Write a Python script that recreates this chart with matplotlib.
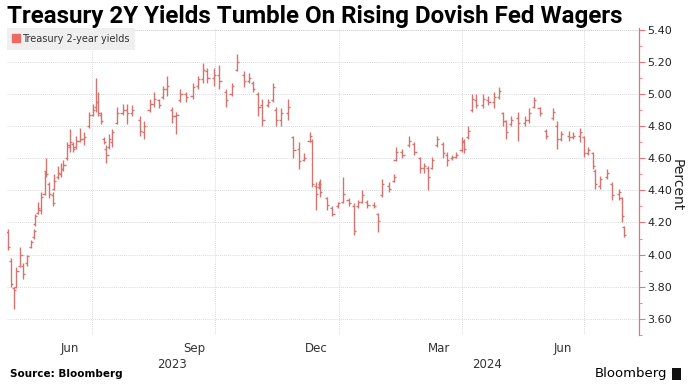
import numpy as np
import pandas as pd
import matplotlib
matplotlib.use('Agg')
import matplotlib.pyplot as plt
import matplotlib.dates as mdates
import matplotlib.transforms as mtransforms
from matplotlib.lines import Line2D
from matplotlib.patches import Rectangle

# 数据：美国两年期国债收益率（OHLC，按图片读取）
dates = ['2023-04-30', '2023-05-02', '2023-05-04', '2023-05-06', '2023-05-09', '2023-05-11', '2023-05-14', '2023-05-17', '2023-05-19', '2023-05-20',
         '2023-05-22', '2023-05-24', '2023-05-27', '2023-05-28', '2023-05-30', '2023-06-02', '2023-06-03', '2023-06-06', '2023-06-08', '2023-06-10',
         '2023-06-13', '2023-06-15', '2023-06-17', '2023-06-19', '2023-06-22', '2023-06-25', '2023-06-29', '2023-07-02', '2023-07-04', '2023-07-06',
         '2023-07-08', '2023-07-10', '2023-07-12', '2023-07-14', '2023-07-16', '2023-07-20', '2023-07-24', '2023-07-27', '2023-07-31', '2023-08-06',
         '2023-08-09', '2023-08-13', '2023-08-16', '2023-08-20', '2023-08-23', '2023-08-26', '2023-08-30', '2023-09-02', '2023-09-05', '2023-09-09',
         '2023-09-14', '2023-09-18', '2023-09-22', '2023-09-25', '2023-09-30', '2023-10-04', '2023-10-09', '2023-10-13', '2023-10-17', '2023-10-22',
         '2023-10-26', '2023-10-29', '2023-11-02', '2023-11-05', '2023-11-09', '2023-11-13', '2023-11-15', '2023-11-19', '2023-11-24', '2023-11-28',
         '2023-12-02', '2023-12-06', '2023-12-10', '2023-12-12', '2023-12-15', '2023-12-17', '2023-12-18', '2023-12-23', '2023-12-27', '2023-12-31',
         '2024-01-04', '2024-01-08', '2024-01-12', '2024-01-15', '2024-01-18', '2024-01-22', '2024-01-27', '2024-01-30', '2024-02-02', '2024-02-07',
         '2024-02-11', '2024-02-12', '2024-02-17', '2024-02-22', '2024-02-26', '2024-03-01', '2024-03-04', '2024-03-07', '2024-03-10', '2024-03-14',
         '2024-03-18', '2024-03-21', '2024-03-25', '2024-03-28', '2024-04-01', '2024-04-03', '2024-04-06', '2024-04-09', '2024-04-12', '2024-04-17',
         '2024-04-21', '2024-04-25', '2024-04-29', '2024-05-02', '2024-05-04', '2024-05-08', '2024-05-13', '2024-05-18', '2024-05-21', '2024-05-25',
         '2024-05-29', '2024-06-03', '2024-06-08', '2024-06-11', '2024-06-14', '2024-06-20', '2024-06-23', '2024-06-28', '2024-07-01', '2024-07-04',
         '2024-07-08', '2024-07-09', '2024-07-13', '2024-07-18', '2024-07-22', '2024-07-27', '2024-07-29', '2024-07-31']

highs = [4.16, 3.98, 3.80, 3.92, 4.05, 3.95, 4.00, 4.09, 4.16, 4.25,
         4.33, 4.39, 4.52, 4.60, 4.45, 4.39, 4.50, 4.55, 4.57, 4.59,
         4.70, 4.78, 4.70, 4.74, 4.79, 4.76, 4.89, 4.94, 5.10, 5.01,
         4.89, 4.73, 4.68, 4.75, 4.78, 4.92, 4.94, 4.94, 4.93, 4.86,
         4.83, 4.97, 5.01, 4.97, 5.05, 5.11, 4.92, 4.89, 5.03, 5.01,
         5.07, 5.11, 5.19, 5.16, 5.16, 5.18, 5.03, 5.07, 5.25, 5.14,
         5.13, 5.08, 5.01, 4.97, 4.97, 5.07, 4.92, 4.91, 4.97, 4.74,
         4.70, 4.63, 4.76, 4.72, 4.45, 4.46, 4.47, 4.36, 4.30, 4.33,
         4.48, 4.35, 4.32, 4.34, 4.40, 4.34, 4.33, 4.26, 4.47, 4.45,
         4.50, 4.67, 4.66, 4.74, 4.70, 4.61, 4.57, 4.55, 4.61, 4.74,
         4.70, 4.64, 4.62, 4.64, 4.73, 4.72, 4.80, 5.00, 5.00, 5.00,
         4.99, 5.01, 5.04, 4.89, 4.84, 4.86, 4.89, 4.86, 4.91, 4.98,
         4.92, 4.78, 4.91, 4.83, 4.77, 4.77, 4.76, 4.79, 4.74, 4.67,
         4.64, 4.53, 4.49, 4.53, 4.45, 4.41, 4.36, 4.18]

lows = [4.03, 3.80, 3.66, 3.79, 3.92, 3.85, 3.93, 4.04, 4.10, 4.18,
        4.25, 4.25, 4.37, 4.48, 4.35, 4.30, 4.40, 4.47, 4.48, 4.52,
        4.59, 4.64, 4.64, 4.66, 4.70, 4.68, 4.79, 4.86, 4.89, 4.86,
        4.81, 4.69, 4.57, 4.66, 4.67, 4.81, 4.87, 4.81, 4.86, 4.74,
        4.72, 4.89, 4.92, 4.91, 4.97, 4.99, 4.82, 4.75, 4.95, 4.95,
        4.97, 5.03, 5.07, 5.07, 5.05, 5.03, 4.92, 4.99, 5.14, 5.04,
        5.07, 5.01, 4.86, 4.80, 4.92, 4.95, 4.80, 4.80, 4.84, 4.60,
        4.53, 4.58, 4.70, 4.42, 4.28, 4.41, 4.36, 4.28, 4.24, 4.29,
        4.32, 4.30, 4.12, 4.29, 4.32, 4.29, 4.29, 4.14, 4.36, 4.39,
        4.45, 4.58, 4.60, 4.67, 4.62, 4.51, 4.51, 4.40, 4.53, 4.67,
        4.60, 4.55, 4.59, 4.60, 4.64, 4.63, 4.72, 4.89, 4.91, 4.91,
        4.93, 4.91, 4.97, 4.80, 4.72, 4.80, 4.71, 4.80, 4.82, 4.91,
        4.86, 4.72, 4.84, 4.66, 4.71, 4.71, 4.72, 4.70, 4.61, 4.62,
        4.53, 4.41, 4.41, 4.47, 4.34, 4.34, 4.20, 4.11]

opens = [4.14, 3.96, 3.79, 3.80, 3.93, 3.93, 3.95, 4.05, 4.11, 4.19,
         4.26, 4.28, 4.38, 4.52, 4.44, 4.37, 4.41, 4.48, 4.50, 4.53,
         4.60, 4.67, 4.69, 4.67, 4.71, 4.72, 4.80, 4.87, 4.92, 4.95,
         4.87, 4.72, 4.66, 4.67, 4.70, 4.82, 4.88, 4.90, 4.88, 4.84,
         4.76, 4.90, 4.94, 4.96, 4.98, 5.03, 4.90, 4.86, 4.96, 5.00,
         4.99, 5.05, 5.09, 5.14, 5.10, 5.12, 5.01, 5.00, 5.15, 5.12,
         5.08, 5.07, 5.00, 4.93, 4.93, 4.96, 4.90, 4.84, 4.88, 4.73,
         4.66, 4.59, 4.71, 4.71, 4.43, 4.42, 4.44, 4.35, 4.29, 4.30,
         4.33, 4.34, 4.30, 4.30, 4.33, 4.33, 4.31, 4.25, 4.37, 4.43,
         4.46, 4.59, 4.64, 4.68, 4.69, 4.60, 4.54, 4.54, 4.54, 4.68,
         4.69, 4.62, 4.60, 4.61, 4.65, 4.70, 4.73, 4.90, 4.96, 4.93,
         4.96, 4.95, 4.98, 4.88, 4.83, 4.81, 4.85, 4.82, 4.84, 4.92,
         4.91, 4.77, 4.85, 4.80, 4.72, 4.74, 4.73, 4.74, 4.73, 4.63,
         4.63, 4.52, 4.43, 4.48, 4.44, 4.38, 4.35, 4.17]

closes = [4.05, 3.82, 3.78, 3.90, 4.00, 3.88, 3.99, 4.08, 4.15, 4.24,
          4.29, 4.36, 4.50, 4.50, 4.38, 4.32, 4.46, 4.51, 4.53, 4.56,
          4.68, 4.70, 4.66, 4.71, 4.72, 4.73, 4.87, 4.90, 4.95, 4.88,
          4.83, 4.70, 4.62, 4.72, 4.76, 4.88, 4.90, 4.88, 4.90, 4.77,
          4.80, 4.94, 4.97, 4.93, 5.03, 5.05, 4.86, 4.87, 5.00, 4.98,
          5.04, 5.09, 5.15, 5.10, 5.12, 5.08, 4.96, 5.05, 5.20, 5.08,
          5.10, 5.03, 4.92, 4.84, 4.95, 5.04, 4.84, 4.88, 4.92, 4.65,
          4.58, 4.60, 4.74, 4.44, 4.38, 4.44, 4.39, 4.31, 4.25, 4.32,
          4.38, 4.32, 4.15, 4.33, 4.37, 4.31, 4.30, 4.21, 4.44, 4.41,
          4.48, 4.64, 4.62, 4.71, 4.64, 4.54, 4.55, 4.48, 4.59, 4.72,
          4.63, 4.59, 4.61, 4.62, 4.71, 4.66, 4.77, 4.97, 4.93, 4.97,
          4.95, 4.98, 5.02, 4.83, 4.76, 4.84, 4.82, 4.84, 4.88, 4.96,
          4.88, 4.74, 4.89, 4.72, 4.75, 4.73, 4.74, 4.76, 4.63, 4.65,
          4.55, 4.44, 4.47, 4.51, 4.37, 4.39, 4.24, 4.12]

year_labels = ['2023', '2024']
year_pos = ['2023-08-30', '2024-04-20']

bar_color = '#d47470'
axis_red = '#e57373'

# 绘图
fig = plt.figure(figsize=(6.91, 3.91), dpi=100)
ax = fig.add_axes([0.0101, 0.1432, 0.9147, 0.7852])

x = mdates.date2num(pd.to_datetime(dates))
ax.vlines(x, lows, highs, color=bar_color, linewidth=1.0)
ax.hlines(opens, x - 1.6, x, color=bar_color, linewidth=1.0)
ax.hlines(closes, x, x + 1.6, color=bar_color, linewidth=1.0)

ax.set_xlim(mdates.date2num(pd.Timestamp('2023-04-29')), mdates.date2num(pd.Timestamp('2024-08-11')))
ax.set_ylim(3.50, 5.41)

# y 轴在右侧
ax.yaxis.tick_right()
ax.set_yticks(np.arange(3.6, 5.41, 0.2))
ax.set_yticks(np.arange(3.5, 5.41, 0.1), minor=True)
ax.yaxis.set_major_formatter(plt.FuncFormatter(lambda v, p: '%.2f' % v))
ax.tick_params(axis='y', which='major', colors=axis_red, labelcolor='#222222', labelsize=8, length=4, width=0.8, pad=2)
ax.tick_params(axis='y', which='minor', colors=axis_red, length=2.5, width=0.6)
fig.text(677 / 691, 1 - 185 / 391, 'Percent', rotation=270, fontsize=10, color='#222222',
         ha='center', va='center')

# x 轴
ax.xaxis.set_major_locator(mdates.MonthLocator(bymonth=[3, 6, 9, 12], bymonthday=15))
ax.xaxis.set_major_formatter(mdates.DateFormatter('%b'))
ax.xaxis.set_minor_locator(mdates.MonthLocator(bymonth=[1, 4, 7, 10], bymonthday=1))
ax.tick_params(axis='x', which='both', length=0, labelsize=8.5, labelcolor='#333333', pad=5)

trans = mtransforms.blended_transform_factory(ax.transData, ax.transAxes)
for lab, pos in zip(year_labels, year_pos):
    ax.text(mdates.date2num(pd.Timestamp(pos)), -0.075, lab, transform=trans,
            ha='center', va='top', fontsize=8.5, color='#333333')

for s in ['top', 'left', 'bottom']:
    ax.spines[s].set_visible(False)
ax.spines['right'].set_color(axis_red)
ax.spines['right'].set_linewidth(0.9)

ax.grid(axis='y', which='major', linestyle=(0, (1, 1.5)), color='#cccccc', linewidth=0.6)
ax.grid(axis='x', which='minor', linestyle=(0, (1, 1.5)), color='#cccccc', linewidth=0.6)
ax.axhline(5.40, linestyle=(0, (1, 1.5)), color='#cccccc', linewidth=0.6)
ax.set_axisbelow(True)

handle = Line2D([], [], marker='s', linestyle='none', color='#ec6a66', markersize=5.5)
leg = ax.legend([handle], ['Treasury 2-year yields'], loc='upper left', fontsize=7,
                frameon=True, facecolor='#efefef', edgecolor='none', framealpha=1,
                fancybox=False, borderaxespad=0, handlelength=0.6, handletextpad=0.3,
                borderpad=0.6)
for t in leg.get_texts():
    t.set_color('#333333')

fig.text(0.010, 1 - 16 / 391, 'Treasury 2Y Yields Tumble On Rising Dovish Fed Wagers',
         fontsize=17.4, fontweight='bold', family='Roboto', va='center', ha='left', color='#000000')
fig.text(0.014, 1 - 374 / 391, 'Source: Bloomberg', fontsize=7.5, fontweight='bold',
         va='center', ha='left', color='#000000')
fig.text(0.966, 1 - 373 / 391, 'Bloomberg', fontsize=9.5, va='center', ha='right', color='#000000')
fig.patches.append(Rectangle((672 / 691, 1 - 380 / 391), 9 / 691, 12 / 391,
                             transform=fig.transFigure, facecolor='#111111', edgecolor='none'))

fig.savefig('out.png', dpi=100)
